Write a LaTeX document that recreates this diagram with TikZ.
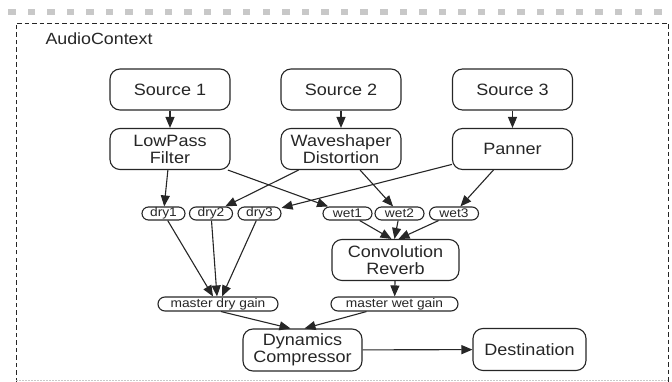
\documentclass[tikz,border=0pt]{standalone}
\usepackage{fontspec}
\usetikzlibrary{arrows.meta}
\newfontfamily\lsans{Liberation Sans}[FakeStretch=1.1]
\definecolor{ink}{HTML}{262626}
\definecolor{sq}{HTML}{C8C8C8}
\begin{document}
\begin{tikzpicture}[x=1pt,y=-1pt,
  bignode/.style={draw=ink, line width=1.1pt, rounded corners=10pt, minimum width=120pt, minimum height=41pt,
     align=center, inner sep=0pt, text=ink, font=\lsans\fontsize{16.4}{17}\selectfont},
  smallnode/.style={draw=ink, line width=1.1pt, rounded corners=6.5pt, minimum height=13pt, inner sep=0pt,
     text=ink, font=\lsans\fontsize{12.5}{13}\selectfont},
  arr/.style={draw=ink, line width=1.1pt, -{Triangle[length=11pt,width=9pt]}}]
\useasboundingbox (0,0) rectangle (672,382);
% grey squares row
\foreach \i in {0,...,33} {
  \fill[sq] (8+19.58*\i,9) rectangle ++(7.5,6.5);
}
% dashed frame
\draw[ink, line width=0.9pt, dash pattern=on 4.5pt off 3pt] (16,382) -- (16,23) -- (668,23) -- (668,382);
\draw[ink!25, line width=0.6pt, dash pattern=on 1.5pt off 1.5pt] (16,380) -- (668,380);
\node[anchor=west, text=ink, font=\lsans\fontsize{16.2}{17}\selectfont] (ctx) at (42,39) {AudioContext};
% nodes
\node[bignode] (s1) at (170,89.5) {Source 1};
\node[bignode] (s2) at (341,89.5) {Source 2};
\node[bignode] (s3) at (512.5,89.5) {Source 3};
\node[bignode] (lp) at (170,149) {LowPass\\Filter};
\node[bignode] (ws) at (341,149) {Waveshaper\\Distortion};
\node[bignode] (pn) at (512.5,149) {Panner};
\node[smallnode, minimum width=43pt] (dry1) at (163.5,213.5) {dry1};
\node[smallnode, minimum width=43pt] (dry2) at (211,213.5) {dry2};
\node[smallnode, minimum width=43pt] (dry3) at (259.5,213.5) {dry3};
\node[smallnode, minimum width=49pt] (wet1) at (347.5,213.5) {wet1};
\node[smallnode, minimum width=49pt] (wet2) at (399.5,213.5) {wet2};
\node[smallnode, minimum width=49pt] (wet3) at (454,213.5) {wet3};
\node[bignode, minimum width=127pt] (cv) at (395.5,260) {Convolution\\Reverb};
\node[smallnode, minimum width=120pt, minimum height=14pt, rounded corners=7pt] (mdg) at (218,304) {master dry gain};
\node[smallnode, minimum width=127pt, minimum height=14pt, rounded corners=7pt] (mwg) at (394.5,304) {master wet gain};
\node[bignode, minimum width=119pt, minimum height=42pt] (dc) at (302.5,350) {Dynamics\\Compressor};
\node[bignode, minimum width=113pt, minimum height=42pt] (dst) at (529.5,349.5) {Destination};
% edges
\draw[arr] (s1) -- (lp);
\draw[arr] (s2) -- (ws);
\draw[arr] (s3) -- (pn);
\draw[arr] (lp) -- (dry1);
\draw[arr] (lp) -- (wet1);
\draw[arr] (ws) -- (dry2);
\draw[arr] (ws) -- (wet2);
\draw[arr] (pn) -- (dry3);
\draw[arr] (pn) -- (wet3);
\draw[arr] (dry1) -- ([xshift=-5pt]mdg.north);
\draw[arr] (dry2) -- ([xshift=-1pt]mdg.north);
\draw[arr] (dry3) -- ([xshift=4pt]mdg.north);
\draw[arr] (wet1) -- ([xshift=-4pt]cv.north);
\draw[arr] (wet2) -- ([xshift=-1pt]cv.north);
\draw[arr] (wet3) -- ([xshift=3pt]cv.north);
\draw[arr] (cv) -- (mwg);
\draw[arr] ([xshift=3pt]mdg.south) -- ([xshift=-12pt]dc.north);
\draw[arr] ([xshift=-28pt]mwg.south) -- ([xshift=2pt]dc.north);
\draw[arr] (dc) -- (dst);
\end{tikzpicture}
\end{document}
